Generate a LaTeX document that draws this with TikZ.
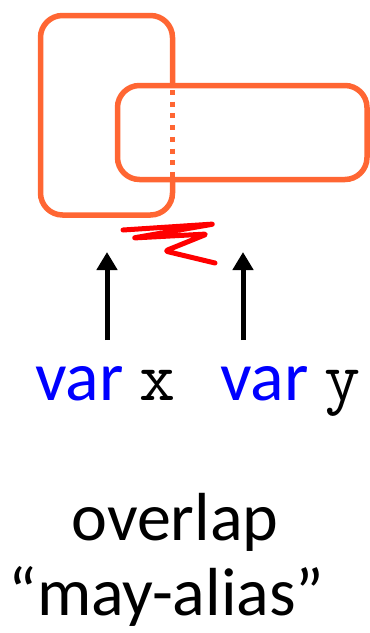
\documentclass[tikz,border=0pt]{standalone}
\usepackage{fontspec}
\setmainfont{Carlito}
\usetikzlibrary{arrows.meta}
\definecolor{boxorange}{RGB}{255,102,51}
\definecolor{kwblue}{RGB}{0,0,255}
\definecolor{scribred}{RGB}{255,0,0}
\newcommand{\codetext}[1]{{\ttfamily\fontsize{70}{80}\selectfont #1}}
\tikzset{
  region/.style={draw=boxorange, line width=5.5pt, rounded corners=22pt},
  hidden/.style={draw=boxorange, line width=5pt, dash pattern=on 5pt off 6.7pt},
  pointer/.style={draw=black, line width=5pt, -{Triangle[width=20pt,length=18pt]}},
  vartext/.style={anchor=base west, inner sep=0pt, font=\fontsize{70}{80}\selectfont},
  caption/.style={anchor=base, inner sep=0pt, font=\fontsize{68}{80}\selectfont},
}
\begin{document}
\begin{tikzpicture}[x=1pt, y=-1pt]
\useasboundingbox (0,0) rectangle (370,633);
% left region (x)
\draw[region] (40.5,15.5) rectangle (172.5,215);
% right region (y), covering the left one's right edge
\draw[region, fill=white] (117.5,85.5) rectangle (367,179.5);
% hidden part of left region's edge
\draw[hidden] (172.5,90) -- (172.5,178);
% red scribble
\draw[scribred, line width=5pt, line cap=round, line join=round, rounded corners=3pt]
  (123,230) -- (214,224) -- (133,238) -- (207,234) -- (165,251) -- (215,263);
% labels
\node[vartext] (vx) at (35,400) {\textcolor{kwblue}{var} \codetext{x}};
\node[vartext] (vy) at (220,400) {\textcolor{kwblue}{var} \codetext{y}};
% pointers
\coordinate (px0) at (107,340);
\coordinate (px1) at (107,252);
\coordinate (py0) at (243,340);
\coordinate (py1) at (243,252);
\draw[pointer] (px0) -- (px1);
\draw[pointer] (py0) -- (py1);
% caption
\node[caption] (c1) at (175,540) {overlap};
\node[caption] (c2) at (166.5,615) {“may-alias”};
\end{tikzpicture}
\end{document}
